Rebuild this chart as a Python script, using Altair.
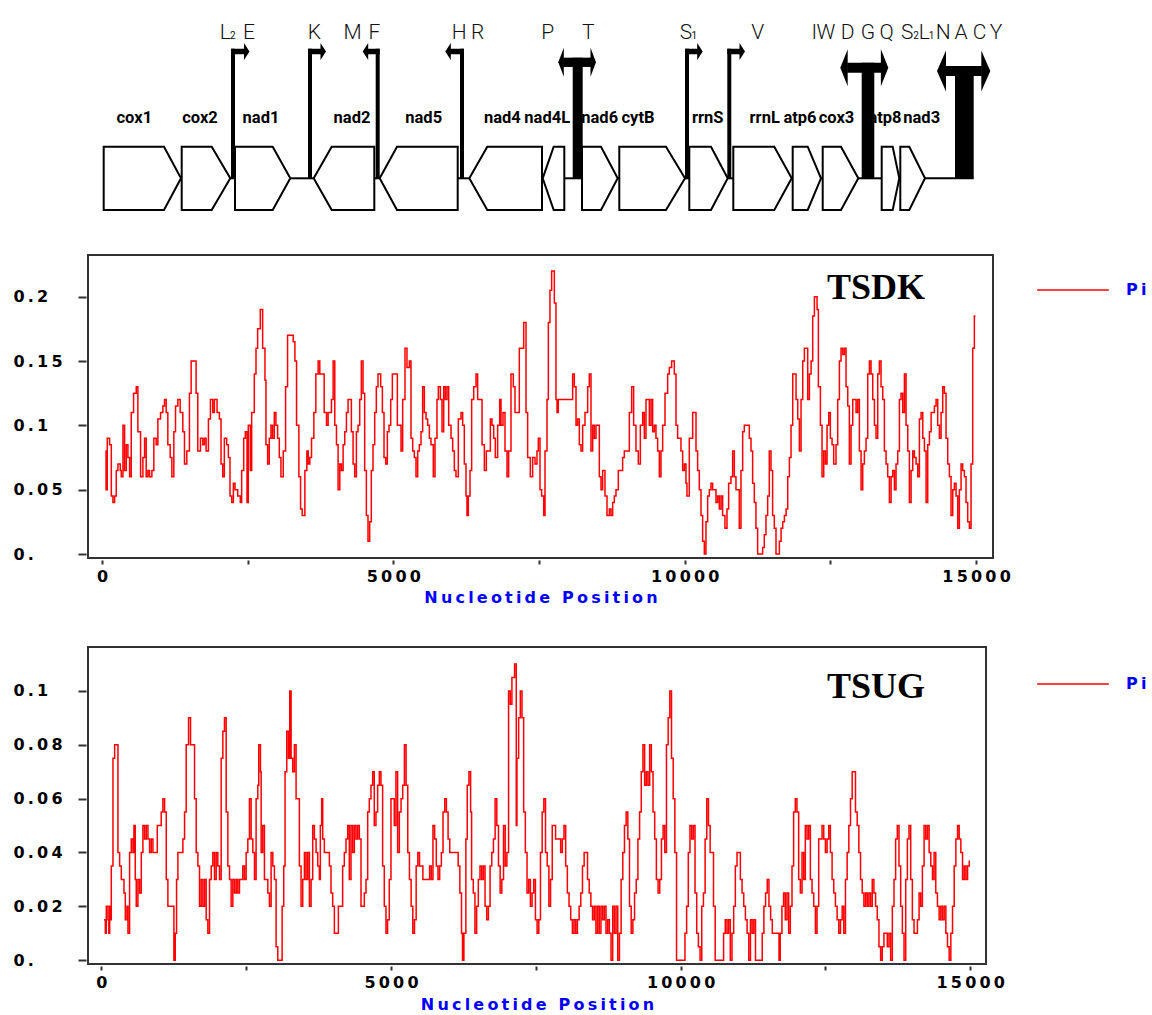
import altair as alt
import pandas as pd

# ---------------- gene map (map units) ----------------
gene_names = ["cox1", "cox2", "nad1", "nad2", "nad5", "nad4", "nad4L", "nad6", "cytB",
              "rrnS", "rrnL", "atp6", "cox3", "atp8", "nad3"]
gene_start = [102.7, 180.7, 234.0, 312.7, 378.7, 468.3, 541.7, 581.0, 618.3,
              688.3, 732.3, 791.7, 821.7, 880.7, 899.3]
gene_end = [180.0, 229.3, 289.3, 373.3, 456.7, 541.0, 563.3, 616.7, 684.0,
            726.7, 790.7, 820.0, 857.3, 898.3, 924.0]
gene_strand = ["+", "+", "+", "-", "-", "-", "-", "+", "+", "+", "+", "+", "+", "+", "+"]
gene_label_x = [133.3, 199.0, 260.0, 351.0, 422.7, 501.3, 546.2, 598.7, 637.0,
                706.7, 763.7, 799.0, 835.5, 884.0, 920.7]
map_end = 972.7

trna_letters = ["L", "2", "E", "K", "M", "F", "H", "R", "P", "T", "S", "1", "V",
                "I", "W", "D", "G", "Q", "S", "2", "L", "1", "N", "A", "C", "Y"]
trna_x = [224.2, 231.7, 248.0, 313.3, 351.7, 373.3, 458.3, 476.7, 546.7, 587.3, 685.0, 693.3, 756.7,
          813.3, 825.0, 846.5, 867.0, 885.5, 906.3, 915.0, 923.3, 930.5, 942.3, 960.0, 978.5, 995.0]
trna_sub = [0, 1, 0, 0, 0, 0, 0, 0, 0, 0, 0, 1, 0, 0, 0, 0, 0, 0, 0, 1, 0, 1, 0, 0, 0, 0]

# tRNA cluster markers: stem left/right, arrow tips (None = no arrow on that side)
mk_left = [230.0, 307.0, 374.7, 459.0, 571.7, 684.0, 726.3, 860.7, 954.0]
mk_right = [234.0, 311.0, 378.7, 463.0, 581.7, 688.0, 730.3, 873.3, 972.7]
mk_tip_left = [None, None, 361.7, 444.3, 557.3, None, None, 839.3, 936.0]
mk_tip_right = [248.5, 325.0, None, None, 595.0, 701.7, 744.0, 887.3, 989.3]
mk_level = [50.5, 50.5, 50.5, 50.5, 61.3, 50.5, 50.5, 66.7, 70.0]

# ---------------- nucleotide diversity ----------------
tsdk_pos = [57, 70, 91, 131, 160, 188, 217, 245, 274, 314, 331, 360, 388, 417, 445, 474, 502, 542, 588, 616,
            662, 702, 731, 759, 788, 816, 856, 890, 930, 959, 1005, 1045, 1073, 1102, 1130, 1170, 1199, 1233,
            1262, 1302, 1342, 1387, 1416, 1456, 1501, 1530, 1615, 1644, 1690, 1730, 1758, 1787, 1827, 1861,
            1901, 1929, 1975, 2015, 2043, 2072, 2100, 2140, 2169, 2197, 2226, 2255, 2283, 2329, 2374, 2397,
            2432, 2460, 2489, 2511, 2546, 2569, 2614, 2643, 2671, 2717, 2757, 2797, 2814, 2843, 2871, 2900,
            2928, 2957, 2985, 3014, 3043, 3071, 3111, 3151, 3185, 3282, 3311, 3339, 3379, 3408, 3436, 3482,
            3516, 3539, 3567, 3596, 3636, 3670, 3710, 3738, 3778, 3813, 3853, 3881, 3938, 3967, 3995, 4024,
            4052, 4081, 4109, 4138, 4166, 4195, 4223, 4280, 4309, 4337, 4366, 4394, 4423, 4451, 4480, 4508,
            4537, 4565, 4594, 4622, 4651, 4680, 4708, 4737, 4783, 4812, 4840, 4869, 4897, 4926, 4955, 4983,
            5040, 5069, 5103, 5132, 5160, 5200, 5234, 5275, 5303, 5332, 5360, 5389, 5418, 5446, 5475, 5503,
            5532, 5561, 5589, 5618, 5646, 5686, 5715, 5749, 5772, 5807, 5835, 5864, 5892, 5921, 5950, 5990,
            6018, 6047, 6075, 6115, 6161, 6190, 6218, 6247, 6264, 6287, 6316, 6344, 6379, 6419, 6447, 6522,
            6562, 6596, 6665, 6693, 6722, 6750, 6790, 6825, 6848, 6882, 6916, 6951, 6979, 7019, 7059, 7088,
            7162, 7191, 7237, 7277, 7305, 7351, 7391, 7431, 7465, 7488, 7517, 7545, 7580, 7603, 7637, 7660,
            7688, 7717, 7763, 7791, 7809, 7831, 8049, 8077, 8106, 8135, 8163, 8192, 8220, 8249, 8289, 8335,
            8363, 8392, 8421, 8449, 8478, 8535, 8564, 8592, 8632, 8667, 8707, 8735, 8764, 8792, 8821, 8861,
            8935, 8964, 9050, 9090, 9124, 9164, 9204, 9239, 9279, 9307, 9336, 9393, 9422, 9450, 9479, 9507,
            9536, 9565, 9593, 9622, 9662, 9708, 9736, 9776, 9822, 9851, 9879, 9936, 9965, 9994, 10022, 10039,
            10079, 10137, 10194, 10222, 10251, 10280, 10308, 10337, 10365, 10394, 10423, 10451, 10480, 10537,
            10566, 10594, 10623, 10651, 10691, 10726, 10754, 10794, 10823, 10852, 10880, 10937, 10966, 10995,
            11023, 11080, 11109, 11138, 11166, 11195, 11223, 11252, 11338, 11366, 11395, 11424, 11452, 11481,
            11509, 11538, 11567, 11597, 11625, 11654, 11682, 11711, 11740, 11768, 11797, 11825, 11854, 11911,
            11940, 11968, 11997, 12026, 12054, 12111, 12140, 12169, 12197, 12226, 12272, 12294, 12329, 12357,
            12386, 12415, 12443, 12472, 12500, 12529, 12557, 12597, 12626, 12655, 12683, 12712, 12741, 12769,
            12798, 12826, 12855, 12884, 12941, 12969, 12998, 13027, 13055, 13084, 13112, 13141, 13170, 13198,
            13227, 13256, 13284, 13313, 13341, 13370, 13399, 13427, 13456, 13484, 13513, 13542, 13570, 13599,
            13627, 13656, 13685, 13713, 13742, 13771, 13799, 13828, 13856, 13885, 13914, 13942, 13971, 14000,
            14028, 14057, 14086, 14114, 14143, 14171, 14200, 14229, 14285, 14314, 14342, 14371, 14400, 14428,
            14457, 14485, 14514, 14543, 14571, 14600, 14628, 14657, 14686, 14714, 14743, 14771, 14800, 14828,
            14857, 14886, 14914, 14943, 14971, 14990]
tsdk_pi = [0.08, 0.05, 0.09, 0.085, 0.045, 0.04, 0.045, 0.065, 0.07, 0.065, 0.06, 0.1, 0.065, 0.085, 0.075, 0.06, 0.11, 0.125, 0.13, 0.095,
           0.06, 0.075, 0.09, 0.06, 0.065, 0.06, 0.065, 0.09, 0.085, 0.105, 0.11, 0.115, 0.12, 0.11, 0.085, 0.075, 0.06, 0.095,
           0.115, 0.12, 0.11, 0.095, 0.07, 0.08, 0.125, 0.15, 0.125, 0.08, 0.09, 0.085, 0.09, 0.08, 0.105, 0.12,
           0.11, 0.12, 0.11, 0.105, 0.07, 0.06, 0.09, 0.085, 0.075, 0.045, 0.04, 0.055, 0.05, 0.045, 0.04, 0.065,
           0.09, 0.095, 0.04, 0.1, 0.065, 0.11, 0.14, 0.16, 0.175, 0.19, 0.16, 0.135, 0.085, 0.07, 0.09, 0.1,
           0.09, 0.11, 0.1, 0.09, 0.075, 0.06, 0.08, 0.13, 0.17, 0.165, 0.15, 0.1, 0.06, 0.035, 0.03, 0.065,
           0.08, 0.07, 0.075, 0.09, 0.11, 0.14, 0.15, 0.14, 0.14, 0.11, 0.1, 0.11, 0.12, 0.15, 0.1, 0.085,
           0.05, 0.07, 0.065, 0.085, 0.095, 0.11, 0.12, 0.095, 0.07, 0.06, 0.095, 0.1, 0.12, 0.15, 0.125, 0.065,
           0.03, 0.01, 0.025, 0.065, 0.085, 0.11, 0.13, 0.14, 0.13, 0.11, 0.075, 0.07, 0.095, 0.1, 0.12, 0.14,
           0.14, 0.1, 0.1, 0.08, 0.12, 0.16, 0.145, 0.15, 0.09, 0.08, 0.075, 0.06, 0.08, 0.085, 0.095, 0.13,
           0.11, 0.105, 0.1, 0.09, 0.085, 0.06, 0.09, 0.12, 0.13, 0.12, 0.095, 0.13, 0.12, 0.13, 0.1, 0.09,
           0.08, 0.065, 0.06, 0.105, 0.11, 0.1, 0.07, 0.045, 0.03, 0.045, 0.065, 0.12, 0.13, 0.14, 0.12, 0.085,
           0.065, 0.08, 0.105, 0.1, 0.09, 0.075, 0.1, 0.12, 0.1, 0.11, 0.08, 0.06, 0.08, 0.14, 0.13, 0.11,
           0.16, 0.16, 0.18, 0.11, 0.075, 0.06, 0.075, 0.07, 0.08, 0.09, 0.05, 0.045, 0.03, 0.08, 0.12, 0.18,
           0.205, 0.22, 0.195, 0.12, 0.11, 0.12, 0.12, 0.14, 0.13, 0.1, 0.105, 0.085, 0.08, 0.1, 0.11, 0.13,
           0.14, 0.08, 0.1, 0.09, 0.1, 0.06, 0.05, 0.065, 0.045, 0.03, 0.035, 0.03, 0.04, 0.045, 0.05, 0.065,
           0.075, 0.08, 0.11, 0.13, 0.1, 0.08, 0.07, 0.1, 0.11, 0.09, 0.12, 0.1, 0.12, 0.095, 0.1, 0.09,
           0.08, 0.06, 0.08, 0.1, 0.125, 0.14, 0.145, 0.15, 0.14, 0.1, 0.09, 0.08, 0.065, 0.07, 0.055, 0.045,
           0.09, 0.11, 0.08, 0.065, 0.05, 0.03, 0.01, 0.0, 0.025, 0.045, 0.05, 0.055, 0.05, 0.04,
           0.045, 0.035, 0.045, 0.03, 0.02, 0.035, 0.055, 0.06, 0.08, 0.06, 0.05, 0.02, 0.065, 0.095,
           0.1, 0.1, 0.09, 0.08, 0.055, 0.04, 0.02, 0.0, 0.005, 0.015, 0.03, 0.045, 0.08, 0.065,
           0.03, 0.02, 0.0, 0.0, 0.01, 0.02, 0.025, 0.03, 0.035, 0.06, 0.075, 0.1, 0.14, 0.12,
           0.105, 0.08, 0.12, 0.15, 0.16, 0.12, 0.14, 0.15, 0.185, 0.2, 0.19, 0.13, 0.1, 0.06,
           0.08, 0.07, 0.1, 0.11, 0.09, 0.085, 0.07, 0.085, 0.12, 0.15, 0.16, 0.155, 0.16, 0.13,
           0.115, 0.07, 0.1, 0.12, 0.11, 0.12, 0.08, 0.05, 0.07, 0.08, 0.09, 0.14, 0.15, 0.14,
           0.12, 0.1, 0.09, 0.14, 0.15, 0.13, 0.12, 0.08, 0.07, 0.06, 0.04, 0.06, 0.065, 0.05,
           0.07, 0.08, 0.12, 0.125, 0.11, 0.14, 0.1, 0.08, 0.04, 0.065, 0.08, 0.075, 0.07, 0.06,
           0.105, 0.11, 0.09, 0.08, 0.04, 0.085, 0.095, 0.11, 0.115, 0.12, 0.1, 0.09, 0.11, 0.13,
           0.125, 0.09, 0.07, 0.06, 0.03, 0.05, 0.055, 0.045, 0.02, 0.05, 0.07, 0.065, 0.06, 0.04,
           0.025, 0.02, 0.07, 0.16, 0.185, 0.185]

tsug_pos = [46, 69, 86, 115, 130, 144, 160, 172, 201, 230, 287, 316, 345, 391, 414, 443, 460, 488, 517, 546,
            563, 586, 603, 632, 661, 690, 718, 747, 776, 805, 833, 862, 891, 966, 1034, 1063, 1092, 1121, 1149,
            1253, 1276, 1299, 1322, 1408, 1437, 1465, 1506, 1540, 1609, 1638, 1667, 1695, 1724, 1753, 1782,
            1810, 1839, 1868, 1897, 1925, 1954, 1983, 2011, 2040, 2069, 2098, 2126, 2155, 2184, 2213, 2241,
            2270, 2299, 2328, 2356, 2385, 2442, 2471, 2500, 2529, 2557, 2586, 2615, 2644, 2672, 2701, 2718,
            2747, 2759, 2787, 2816, 2874, 2902, 2931, 2960, 2988, 3017, 3046, 3121, 3149, 3172, 3201, 3230,
            3253, 3276, 3304, 3333, 3362, 3419, 3448, 3477, 3506, 3534, 3563, 3592, 3621, 3649, 3678, 3707,
            3736, 3764, 3781, 3804, 3822, 3850, 3937, 3965, 3994, 4023, 4092, 4166, 4195, 4224, 4253, 4281,
            4310, 4339, 4368, 4396, 4425, 4454, 4483, 4540, 4569, 4598, 4626, 4655, 4684, 4712, 4741, 4770,
            4799, 4827, 4856, 4885, 4914, 4942, 4971, 5000, 5057, 5086, 5115, 5145, 5174, 5203, 5232, 5261,
            5290, 5319, 5348, 5377, 5406, 5435, 5464, 5493, 5551, 5667, 5696, 5725, 5754, 5783, 5812, 5841,
            5870, 5899, 5928, 5957, 5986, 6015, 6160, 6189, 6218, 6235, 6259, 6293, 6317, 6346, 6375, 6392,
            6421, 6450, 6479, 6508, 6537, 6566, 6595, 6624, 6653, 6682, 6711, 6740, 6769, 6798, 6827, 6856,
            6885, 6914, 6943, 6972, 7001, 7030, 7059, 7088, 7134, 7163, 7175, 7204, 7233, 7262, 7291, 7320,
            7349, 7378, 7407, 7436, 7465, 7494, 7523, 7552, 7581, 7610, 7639, 7668, 7697, 7726, 7755, 7784,
            7842, 7929, 7958, 7987, 8016, 8045, 8074, 8103, 8132, 8161, 8190, 8219, 8248, 8277, 8306, 8335,
            8393, 8422, 8451, 8480, 8509, 8538, 8567, 8596, 8625, 8654, 8683, 8712, 8741, 8770, 8799, 8828,
            8857, 8886, 8915, 8944, 8973, 9002, 9031, 9060, 9089, 9118, 9147, 9176, 9205, 9234, 9263, 9292,
            9321, 9350, 9379, 9408, 9437, 9466, 9495, 9524, 9553, 9582, 9611, 9640, 9669, 9698, 9727, 9756,
            9785, 9814, 9843, 9872, 9901, 9930, 10075, 10104, 10133, 10162, 10191, 10220, 10249, 10278, 10307,
            10336, 10365, 10394, 10423, 10452, 10481, 10510, 10568, 10597, 10742, 10771, 10800, 10829, 10858,
            10887, 10916, 10945, 10974, 11032, 11061, 11090, 11119, 11148, 11177, 11206, 11235, 11264, 11293,
            11409, 11438, 11467, 11496, 11525, 11554, 11583, 11699, 11720, 11749, 11778, 11807, 11836, 11865,
            11894, 11923, 11951, 11980, 12009, 12038, 12067, 12096, 12125, 12153, 12182, 12211, 12240, 12269,
            12298, 12327, 12355, 12384, 12413, 12442, 12471, 12500, 12529, 12558, 12586, 12615, 12644, 12673,
            12702, 12731, 12760, 12789, 12817, 12846, 12875, 12904, 12933, 12962, 13019, 13048, 13077, 13106,
            13135, 13164, 13193, 13222, 13250, 13279, 13308, 13337, 13366, 13395, 13424, 13453, 13481, 13510,
            13568, 13597, 13626, 13655, 13684, 13712, 13741, 13770, 13799, 13828, 13857, 13886, 13915, 13943,
            13972, 14001, 14030, 14088, 14117, 14145, 14174, 14203, 14232, 14261, 14290, 14319, 14348, 14376,
            14405, 14434, 14463, 14492, 14521, 14550, 14579, 14607, 14636, 14665, 14694, 14723, 14752, 14781,
            14809, 14838, 14867, 14896, 14925, 14954, 14983]
tsug_pi = [0.015, 0.01, 0.02, 0.015, 0.01, 0.02, 0.015, 0.035, 0.075, 0.08, 0.04, 0.035, 0.03, 0.025, 0.015, 0.02, 0.01, 0.04, 0.045, 0.04,
           0.05, 0.03, 0.02, 0.03, 0.025, 0.04, 0.05, 0.045, 0.05, 0.045, 0.04, 0.045, 0.04, 0.05, 0.055, 0.06, 0.055, 0.03, 0.02,
           0.0, 0.01, 0.03, 0.04, 0.045, 0.055, 0.08, 0.09, 0.08, 0.06, 0.04, 0.035, 0.02, 0.03, 0.02, 0.03,
           0.015, 0.01, 0.03, 0.035, 0.04, 0.03, 0.04, 0.035, 0.03, 0.075, 0.085, 0.09, 0.055, 0.035, 0.03, 0.02,
           0.03, 0.025, 0.03, 0.025, 0.03, 0.035, 0.03, 0.04, 0.045, 0.06, 0.045, 0.04, 0.03, 0.06, 0.065, 0.08,
           0.07, 0.04, 0.05, 0.03, 0.025, 0.02, 0.04, 0.035, 0.03, 0.005, 0.0, 0.02, 0.035, 0.07, 0.085, 0.075,
           0.1, 0.075, 0.07, 0.08, 0.06, 0.035, 0.02, 0.03, 0.04, 0.03, 0.04, 0.02, 0.03, 0.05, 0.045, 0.04,
           0.035, 0.03, 0.05, 0.06, 0.045, 0.04, 0.035, 0.025, 0.02, 0.01, 0.02, 0.035, 0.04, 0.045, 0.05, 0.03,
           0.05, 0.04, 0.05, 0.045, 0.05, 0.045, 0.02, 0.025, 0.03, 0.055, 0.06, 0.065, 0.07, 0.05, 0.055, 0.065,
           0.07, 0.065, 0.035, 0.02, 0.01, 0.015, 0.03, 0.06, 0.05, 0.07, 0.04, 0.055, 0.06, 0.065, 0.08, 0.065,
           0.04, 0.03, 0.02, 0.01, 0.015, 0.035, 0.04, 0.035, 0.03, 0.035, 0.03, 0.05, 0.045, 0.035, 0.03, 0.035,
           0.04, 0.055, 0.06, 0.055, 0.045, 0.04, 0.035, 0.025, 0.01, 0.0, 0.01, 0.045, 0.065, 0.07, 0.055, 0.03,
           0.025, 0.01, 0.02, 0.03, 0.035, 0.03, 0.035, 0.02, 0.015, 0.02, 0.035, 0.04, 0.045, 0.06, 0.05, 0.035,
           0.025, 0.03, 0.05, 0.035, 0.04, 0.1, 0.095, 0.105, 0.11, 0.05, 0.075, 0.09, 0.1, 0.09, 0.055, 0.04,
           0.025, 0.03, 0.02, 0.025, 0.03, 0.015, 0.01, 0.015, 0.04, 0.055, 0.06, 0.04, 0.035, 0.02, 0.03, 0.05,
           0.045, 0.04, 0.045, 0.05, 0.035, 0.025, 0.02, 0.015, 0.01, 0.015, 0.01, 0.015, 0.02, 0.025, 0.035, 0.04,
           0.03, 0.025, 0.02, 0.015, 0.02, 0.01, 0.02, 0.01, 0.02, 0.015, 0.02, 0.01, 0.015, 0.01, 0.0, 0.02,
           0.01, 0.02, 0.0, 0.01, 0.03, 0.04, 0.05, 0.055, 0.045, 0.02, 0.01, 0.015, 0.025, 0.03, 0.045, 0.055,
           0.07, 0.08, 0.065, 0.07, 0.065, 0.08, 0.07, 0.055, 0.045, 0.03, 0.025, 0.03, 0.045, 0.05, 0.04, 0.08,
           0.09, 0.1, 0.075, 0.06, 0.04, 0.0, 0.01, 0.02, 0.04, 0.05, 0.045, 0.05, 0.025, 0.01, 0.005,
           0.0, 0.02, 0.025, 0.045, 0.06, 0.05, 0.04, 0.02, 0.0, 0.01, 0.015, 0.01, 0.015, 0.0,
           0.01, 0.02, 0.035, 0.04, 0.03, 0.025, 0.02, 0.015, 0.01, 0.0, 0.015, 0.01, 0.015, 0.0,
           0.01, 0.02, 0.025, 0.03, 0.02, 0.015, 0.01, 0.0, 0.01, 0.02, 0.025, 0.015, 0.025, 0.01,
           0.02, 0.035, 0.055, 0.06, 0.055, 0.03, 0.025, 0.04, 0.03, 0.05, 0.045, 0.05, 0.03, 0.025,
           0.02, 0.01, 0.02, 0.045, 0.045, 0.05, 0.045, 0.04, 0.045, 0.05, 0.04, 0.03, 0.025, 0.02,
           0.015, 0.01, 0.015, 0.02, 0.01, 0.03, 0.04, 0.05, 0.06, 0.07, 0.055, 0.05, 0.04, 0.03,
           0.025, 0.02, 0.025, 0.02, 0.025, 0.02, 0.03, 0.025, 0.02, 0.015, 0.005, 0.0, 0.005, 0.01,
           0.005, 0.01, 0.0, 0.02, 0.03, 0.045, 0.05, 0.035, 0.02, 0.01, 0.0, 0.03, 0.045, 0.05,
           0.03, 0.015, 0.01, 0.015, 0.025, 0.02, 0.035, 0.05, 0.045, 0.05, 0.04, 0.035, 0.03, 0.04,
           0.025, 0.02, 0.015, 0.02, 0.015, 0.02, 0.01, 0.005, 0.0, 0.01, 0.02, 0.035, 0.045, 0.05,
           0.045, 0.04, 0.03, 0.035, 0.03, 0.035, 0.037]

# ---------------- styling constants ----------------
BOX_TOP, BOX_BOT, MID = 145.7, 209.0, 177.3
gene_tip = [17.0, 18.6, 17.6, 18.0, 17.3, 18.0, 11.0, 16.7, 19.0, 16.7, 17.4, 13.3, 17.3, 6.6, 15.7]
mk_thick = [5.5, 5.5, 5.5, 5.5, 9.3, 5.5, 5.5, 10.0, 10.0]
mk_head_len = [5.5, 5.5, 5.5, 5.5, 5.5, 5.5, 5.5, 7.4, 9.0]
mk_head_h = [17, 17, 17, 17, 29, 17, 17, 37, 41]
NARROW = "Roboto"
WIDE = "DejaVu Sans"
TH = "\u2009"

mx = alt.Scale(domain=[87, 992], nice=False, zero=False)
my = alt.Scale(domain=[0, 165], nice=False, zero=False, reverse=True)

# pentagon outlines
rows = []
for g, s, e, st, t in zip(gene_names, gene_start, gene_end, gene_strand, gene_tip):
    if st == "+":
        pts = [(s, BOX_TOP), (e - t, BOX_TOP), (e, MID), (e - t, BOX_BOT), (s, BOX_BOT), (s, BOX_TOP), (e - t, BOX_TOP)]
    else:
        pts = [(s + t, BOX_TOP), (e, BOX_TOP), (e, BOX_BOT), (s + t, BOX_BOT), (s, MID), (s + t, BOX_TOP), (e, BOX_TOP)]
    for i, (px, py) in enumerate(pts):
        rows.append({"gene": g, "i": i, "x": px, "y": py})
penta_df = pd.DataFrame(rows)

# backbone segments in gaps between genes
seg = []
for k in range(len(gene_names) - 1):
    if gene_start[k + 1] > gene_end[k]:
        seg.append({"x1": gene_end[k], "x2": gene_start[k + 1], "y": MID})
seg.append({"x1": gene_end[-1], "x2": map_end, "y": MID})
seg_df = pd.DataFrame(seg)

stems, hbars, heads = [], [], []
for l, r, tl, tr, lev, th, hl, hh in zip(mk_left, mk_right, mk_tip_left, mk_tip_right, mk_level,
                                         mk_thick, mk_head_len, mk_head_h):
    stems.append({"x1": l, "x2": r, "y1": lev - th / 2, "y2": MID})
    hx1 = (tl + hl - 0.5) if tl is not None else l
    hx2 = (tr - hl + 0.5) if tr is not None else r
    hbars.append({"x1": hx1, "x2": hx2, "y1": lev - th / 2, "y2": lev + th / 2})
    a = hl / (hh / 2.0)
    if tr is not None:
        heads.append({"x": tr, "y": lev, "shape": f"M0,0L{-a:.3f},-1L{-a:.3f},1Z", "size": hh * hh})
    if tl is not None:
        heads.append({"x": tl, "y": lev, "shape": f"M0,0L{a:.3f},-1L{a:.3f},1Z", "size": hh * hh})

X = lambda f: alt.X(f, scale=mx, axis=None)
Y = lambda f: alt.Y(f, scale=my, axis=None)

penta = alt.Chart(penta_df).mark_line(color="black", strokeWidth=2, strokeJoin="miter").encode(
    x=X("x:Q"), y=Y("y:Q"), detail="gene:N", order="i:Q")
backbone = alt.Chart(seg_df).mark_rule(color="black", strokeWidth=2).encode(
    x=X("x1:Q"), x2="x2:Q", y=Y("y:Q"))
stem_l = alt.Chart(pd.DataFrame(stems)).mark_rect(color="black").encode(
    x=X("x1:Q"), x2="x2:Q", y=Y("y1:Q"), y2="y2:Q")
hbar_l = alt.Chart(pd.DataFrame(hbars)).mark_rect(color="black").encode(
    x=X("x1:Q"), x2="x2:Q", y=Y("y1:Q"), y2="y2:Q")
head_l = alt.Chart(pd.DataFrame(heads)).mark_point(filled=True, opacity=1, color="black", strokeWidth=0).encode(
    x=X("x:Q"), y=Y("y:Q"), shape=alt.Shape("shape:N", scale=None, legend=None),
    size=alt.Size("size:Q", scale=None, legend=None))
glabel = alt.Chart(pd.DataFrame({"g": gene_names, "x": gene_label_x, "y": [122.0] * len(gene_names)})).mark_text(
    font=NARROW, fontSize=16.5, fontWeight="bold", baseline="alphabetic", align="center", color="black").encode(
    x=X("x:Q"), y=Y("y:Q"), text="g:N")
tdf = pd.DataFrame({"t": trna_letters, "x": trna_x, "sub": trna_sub, "y": [38.0] * len(trna_x)})
tl_big = alt.Chart(tdf).transform_filter("datum.sub == 0").mark_text(
    font=NARROW, fontSize=21, fontWeight=300, baseline="alphabetic", align="center", color="#111").encode(
    x=X("x:Q"), y=Y("y:Q"), text="t:N")
tl_small = alt.Chart(tdf).transform_filter("datum.sub == 1").mark_text(
    font=NARROW, fontSize=10, baseline="alphabetic", align="center", color="#111").encode(
    x=X("x:Q"), y=Y("y:Q"), text="t:N")

gene_map = alt.layer(backbone, penta, stem_l, hbar_l, head_l, glabel, tl_big, tl_small,
                     view=alt.ViewBackground(stroke="transparent")).properties(width=905, height=165)


def spaced(expr):
    return f"join(split({expr}, ''), '{TH}')"


def panel(pos, pi, name, width, height, xdom, ydom, yvals, legend_y, title_y, title_pad):
    df = pd.DataFrame({"pos": pos, "pi": pi, "series": "Pi"})
    xaxis = alt.Axis(values=[0, 2500, 5000, 7500, 10000, 12500, 15000], format="d",
                     labelExpr="datum.value % 5000 == 0 ? " + spaced("datum.label") + " : ''",
                     labelOverlap=False, tickSize=4, offset=2, labelPadding=4, domain=False, grid=False,
                     labelFont=WIDE, labelFontWeight="bold", labelFontSize=16, labelColor="black",
                     tickColor="#333", tickWidth=2,
                     title=TH.join("Nucleotide Position"), titleFont=WIDE, titleFontSize=16,
                     titleFontWeight="bold", titleColor="#0000ff", titlePadding=title_pad)
    yaxis = alt.Axis(values=yvals, format="~g",
                     labelExpr=f"datum.value == 0 ? '0{TH}.' : " + spaced("datum.label"),
                     labelAlign="left", labelBaseline="middle", labelPadding=65, tickSize=8, offset=2,
                     domain=False, grid=False, title=None, labelOverlap=False,
                     labelFont=WIDE, labelFontWeight="bold", labelFontSize=16, labelColor="black",
                     tickColor="#333", tickWidth=2)
    line = alt.Chart(df).mark_line(interpolate="step-after", strokeWidth=1.5).encode(
        x=alt.X("pos:Q", scale=alt.Scale(domain=xdom, nice=False, zero=False), axis=xaxis),
        y=alt.Y("pi:Q", scale=alt.Scale(domain=ydom, nice=False, zero=False), axis=yaxis),
        color=alt.Color("series:N", scale=alt.Scale(domain=["Pi"], range=["#ff0000"]),
                        legend=alt.Legend(orient="none", legendX=948, legendY=legend_y, title=None,
                                          symbolType="stroke", symbolSize=5141, symbolStrokeWidth=1.5,
                                          labelFont=WIDE, labelFontWeight="bold", labelFontSize=16,
                                          labelColor="#0000ff", labelOffset=16, labelExpr=f"'P{TH}i'")))
    label = alt.Chart(pd.DataFrame({"t": [name]})).mark_text(
        font="Liberation Serif", fontWeight="bold", fontSize=36, align="center",
        baseline="alphabetic", color="black").encode(
        text="t:N", x=alt.value(788), y=alt.value(title_y))
    return alt.layer(line, label).properties(width=width, height=height)


tsdk = panel(tsdk_pos, tsdk_pi, "TSDK", 905, 303, [-240, 15291], [-0.0031, 0.2324],
             [0, 0.05, 0.1, 0.15, 0.2], -2, 44, 5)
tsug = panel(tsug_pos, tsug_pi, "TSUG", 898, 317, [-230, 15272], [-0.0014, 0.1163],
             [0, 0.02, 0.04, 0.06, 0.08, 0.1], 0, 51, 6.5)

chart = alt.vconcat(gene_map, tsdk, tsug, spacing=89, bounds="flush").resolve_scale(
    color="independent").properties(
    padding={"left": 12, "top": 0, "right": 0, "bottom": 0}, background="white"
).configure_view(stroke="#333333", strokeWidth=2)

chart.save("out.html", embed_options={"renderer": "svg", "actions": False})
